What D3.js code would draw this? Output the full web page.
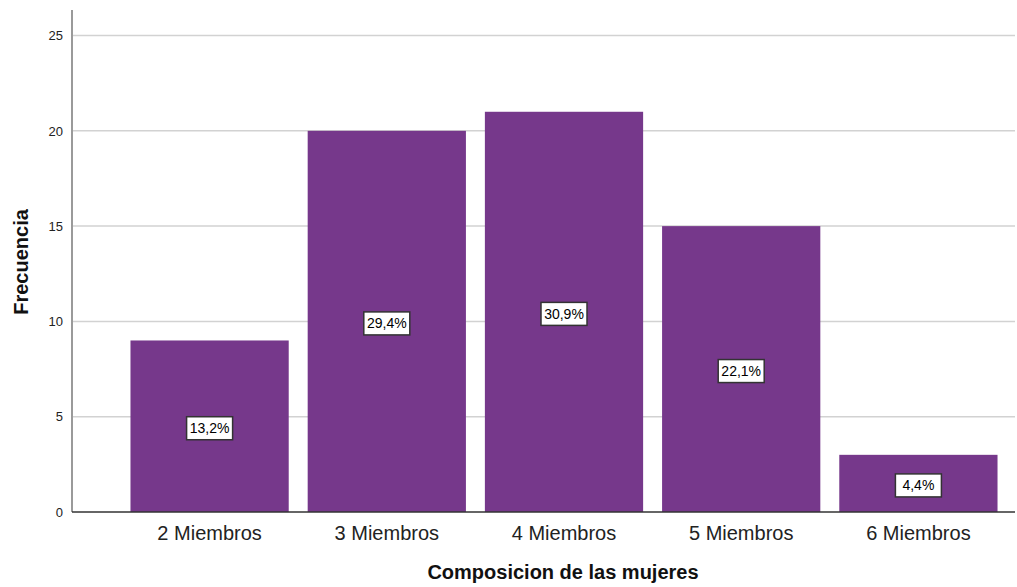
<!DOCTYPE html>
<html>
<head>
<meta charset="utf-8">
<script src="https://cdn.jsdelivr.net/npm/d3@7"></script>
<style>
body { margin: 0; background: #fff; }
svg { display: block; font-family: "Liberation Sans", Arial, sans-serif; }
</style>
</head>
<body>
<svg id="chart" width="1017" height="587"></svg>
<script>
const categories = ["2 Miembros", "3 Miembros", "4 Miembros", "5 Miembros", "6 Miembros"];
const frequencies = [9, 20, 21, 15, 3];
const percentLabels = ["13,2%", "29,4%", "30,9%", "22,1%", "4,4%"];
const yTicks = [0, 5, 10, 15, 20, 25];
const xTitle = "Composicion de las mujeres";
const yTitle = "Frecuencia";

const svg = d3.select("#chart");
const plot = { left: 72, right: 1015, top: 10, bottom: 512 };

const x = d3.scaleBand().domain(categories).range([121, 1007]).paddingInner(0.107).paddingOuter(0.0535);
const y = d3.scaleLinear().domain([0, 26.34]).range([plot.bottom, plot.top]);

// gridlines
svg.append("g").selectAll("line").data(yTicks.filter(d => d > 0)).join("line")
  .attr("x1", plot.left).attr("x2", plot.right)
  .attr("y1", d => y(d)).attr("y2", d => y(d))
  .attr("stroke", "#d2d2d2").attr("stroke-width", 1.5);

// bars
svg.append("g").selectAll("rect").data(categories).join("rect")
  .attr("x", d => x(d)).attr("width", x.bandwidth())
  .attr("y", (d, i) => y(frequencies[i]))
  .attr("height", (d, i) => y(0) - y(frequencies[i]))
  .attr("fill", "#76388b");

// percent labels
const lab = svg.append("g").selectAll("g").data(categories).join("g")
  .attr("transform", (d, i) => `translate(${x(d) + x.bandwidth() / 2},${y(frequencies[i] / 2) + 2})`);
lab.append("rect").attr("x", -23).attr("y", -11.5).attr("width", 46).attr("height", 23)
  .attr("fill", "#fff").attr("stroke", "#333").attr("stroke-width", 1.5);
lab.append("text").attr("text-anchor", "middle").attr("dy", "0.36em")
  .attr("font-size", 14).attr("fill", "#000").text((d, i) => percentLabels[i]);

// y axis
const yAxis = svg.append("g").attr("transform", `translate(${plot.left},0)`)
  .call(d3.axisLeft(y).tickValues(yTicks).tickSize(0).tickPadding(9));
yAxis.select(".domain").remove();
yAxis.selectAll("text").attr("font-size", 13).attr("fill", "#222").attr("font-family", "Liberation Sans, Arial, sans-serif");
svg.append("line").attr("x1", plot.left).attr("x2", plot.left).attr("y1", plot.top).attr("y2", plot.bottom)
  .attr("stroke", "#9a9a9a").attr("stroke-width", 2);

// x axis
const xAxis = svg.append("g").attr("transform", `translate(0,${plot.bottom})`)
  .call(d3.axisBottom(x).tickSize(0).tickPadding(14));
xAxis.select(".domain").remove();
xAxis.selectAll("text").attr("font-size", 20).attr("fill", "#222").attr("font-family", "Liberation Sans, Arial, sans-serif");
svg.append("line").attr("x1", plot.left).attr("x2", plot.right).attr("y1", plot.bottom).attr("y2", plot.bottom)
  .attr("stroke", "#333").attr("stroke-width", 1.3);

// titles
svg.append("text").attr("x", 563).attr("y", 579).attr("text-anchor", "middle")
  .attr("font-size", 20).attr("font-weight", "bold").attr("fill", "#111").text(xTitle);
svg.append("text").attr("transform", "translate(28,262) rotate(-90)").attr("text-anchor", "middle")
  .attr("font-size", 20).attr("font-weight", "bold").attr("fill", "#111").text(yTitle);
</script>
</body>
</html>
